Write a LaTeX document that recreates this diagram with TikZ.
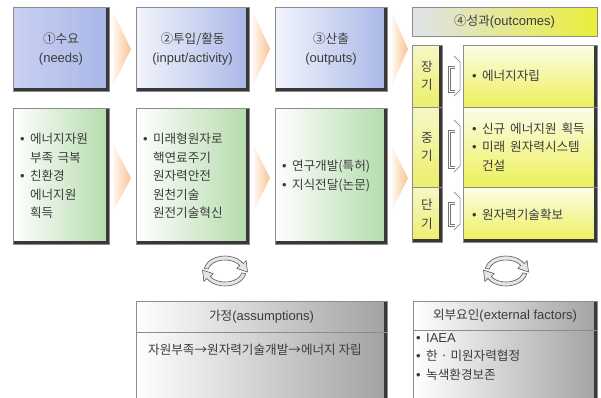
\documentclass[tikz,border=0pt]{standalone}
\usepackage{fontspec}
\setmainfont{Liberation Sans}
\newfontfamily\kr{Noto Sans CJK KR}[Scale=0.97]
\usetikzlibrary{calc}
\definecolor{txt}{HTML}{3C3C3C}
\definecolor{bluA}{HTML}{C9D0F1}
\definecolor{bluL}{HTML}{F3F5FC}
\definecolor{bluR}{HTML}{A9B7E7}
\definecolor{grnR}{HTML}{B3DBAB}
\definecolor{hdL}{HTML}{DFE2EA}
\definecolor{hdR}{HTML}{EAEE3A}
\definecolor{ylT}{HTML}{FCFCE8}
\definecolor{ylB}{HTML}{EDF05A}
\definecolor{colT}{HTML}{F7F7C8}
\definecolor{colB}{HTML}{ECEE6A}
\definecolor{grayR}{HTML}{A2A2A2}
\definecolor{orL}{HTML}{FFF7F0}
\definecolor{orR}{HTML}{F9C293}
\newcommand\bul{\makebox[10pt][l]{•}}
\newcommand\indt{\hspace*{10pt}}
\tikzset{
  box/.style={draw=black!45, line width=0.6pt, inner sep=0pt, outer sep=0pt},
  dkR/.style={path picture={\fill[black!78] ([xshift=-3pt]path picture bounding box.north east) rectangle (path picture bounding box.south east);}},
  dkRB/.style={path picture={\fill[black!78] ([xshift=-3pt]path picture bounding box.north east) rectangle (path picture bounding box.south east);
      \fill[black!78] ([yshift=3pt]path picture bounding box.south west) rectangle (path picture bounding box.south east);}},
  topbox/.style={box, dkRB, left color=bluL, right color=bluR, align=center, minimum height=84pt},
  lowbox/.style={box, dkRB, left color=white, right color=grnR, align=left, inner xsep=7pt, minimum height=136pt},
  colbox/.style={box, top color=colT, bottom color=colB, align=center, text width=24pt, inner xsep=0pt, minimum width=30pt},
  rowbox/.style={box, top color=ylT, bottom color=ylB, align=left, inner xsep=9pt, text width=116pt},
  graybox/.style={box, dkR, left color=white, right color=grayR, align=center},
  oarrow/.style={left color=orL, right color=orR, draw=none},
  cycsty/.style={fill=black!10, draw=black!65, line width=0.6pt},
  brksty/.style={draw=black!55, line width=0.5pt},
  pics/cyc/.style={code={
    \foreach \r in {0,180}{
      \filldraw[cycsty, rotate=\r] (170:21pt and 15pt)
        arc[start angle=170, end angle=30, x radius=21pt, y radius=15pt]
        -- (21.1pt,10.4pt) -- (22.5pt,-1pt) -- (11.9pt,2.6pt) -- (30:17pt and 11pt)
        arc[start angle=30, end angle=170, x radius=17pt, y radius=11pt] -- cycle;
    }
  }},
  pics/brk/.style={code={
    \draw[brksty] (-4pt,#1) -- (2pt,#1-6pt) -- (2pt,-#1+6pt) -- (-4pt,-#1);
    \draw[brksty] (-3pt,#1-10pt) -- (-10pt,#1-10pt) -- (-10pt,-#1+4pt) -- (-3pt,-#1+4pt);
    \draw[brksty] (-3pt,#1-12pt) -- (-8pt,#1-12pt) -- (-8pt,-#1+6pt) -- (-3pt,-#1+6pt);
  }}
}
\begin{document}
\begin{tikzpicture}[x=1pt,y=-1pt, every node/.style={font=\fontsize{13}{18.5}\selectfont, text=txt}]
\clip (0,0) rectangle (601,397);
\fill[white] (0,0) rectangle (601,397);

% top row
\node[topbox, left color=bluA, minimum width=96pt] (t1) at (61,49) {{\kr ①수요}\\(needs)};
\node[topbox, minimum width=113pt] (t2) at (192.5,49) {{\kr ②투입/활동}\\(input/activity)};
\node[topbox, minimum width=112pt] (t3) at (331,49) {{\kr ③산출}\\(outputs)};
\node[box, left color=hdL, right color=hdR, minimum width=185pt, minimum height=29pt] (h4) at (504.5,21.5) {{\kr ④성과}(outcomes)};

% lower row
\node[lowbox, text width=82pt] (l1) at (61,176) {\bul{\kr 에너지자원}\\\indt{\kr 부족 극복}\\\bul{\kr 친환경}\\\indt{\kr 에너지원}\\\indt{\kr 획득}};
\node[lowbox, text width=99pt] (l2) at (192.5,176) {\bul{\kr 미래형원자로}\\\indt{\kr 핵연료주기}\\\indt{\kr 원자력안전}\\\indt{\kr 원천기술}\\\indt{\kr 원전기술혁신}};
\node[lowbox, text width=98pt] (l3) at (331,176) {\bul{\kr 연구개발(특허)}\\\bul{\kr 지식전달(논문)}};

% outcome column
\node[colbox, dkR, minimum height=62pt] (c1) at (427,76) {{\kr 장}\\{\kr 기}};
\node[colbox, dkR, minimum height=80pt] (c2) at (427,147) {{\kr 중}\\{\kr 기}};
\node[colbox, dkRB, minimum height=55pt] (c3) at (427,214.5) {{\kr 단}\\{\kr 기}};
\node[rowbox, dkR, minimum height=62pt] (r1) at (530,76) {\bul{\kr 에너지자립}};
\node[rowbox, dkR, minimum height=80pt] (r2) at (530,147) {\bul{\kr 신규\hspace{5pt}에너지원\hspace{5pt}획득}\\\bul{\kr 미래\hspace{5pt}원자력시스템}\\\indt{\kr 건설}};
\node[rowbox, dkRB, minimum height=55pt] (r3) at (530,214.5) {\bul{\kr 원자력기술확보}};
\pic at (458,76) {brk=20pt};
\pic at (458,146) {brk=26pt};
\pic at (458,211) {brk=19pt};

% orange block arrows
\path[oarrow] ($(t1.east)+(4,-37)$) -- ($(t2.west)+(-5,0)$) -- ($(t1.east)+(4,37)$) -- cycle;
\path[oarrow] ($(t2.east)+(4,-37)$) -- ($(t3.west)+(-5,0)$) -- ($(t2.east)+(4,37)$) -- cycle;
\path[oarrow] ($(t3.east)+(5,-36)$) -- ($(t3.east)+(21,0)$) -- ($(t3.east)+(5,36)$) -- cycle;
\path[oarrow] ($(l1.east)+(4,-32)$) -- ($(l2.west)+(-5,2)$) -- ($(l1.east)+(4,36)$) -- cycle;
\path[oarrow] ($(l2.east)+(5,-30)$) -- ($(l3.west)+(-5,2)$) -- ($(l2.east)+(5,34)$) -- cycle;
\path[oarrow] ($(l3.east)+(5,-29)$) -- ($(l3.east)+(21,2)$) -- ($(l3.east)+(5,34)$) -- cycle;

% cycle arrows
\pic at (225,271) {cyc};
\pic at (506,271) {cyc};

% bottom boxes
\node[graybox, minimum width=251pt, minimum height=31pt] (ah) at (261.5,316.5) {{\kr 가정}(assumptions)};
\node[graybox, minimum width=251pt, minimum height=68pt] (ab) at (261.5,366) {};
\node (at) at (255,350) {\kr 자원부족→원자력기술개발→에너지 자립};
\node[graybox, minimum width=184pt, minimum height=29pt] (eh) at (505,315.5) {{\kr 외부요인}(external factors)};
\node[graybox, minimum width=184pt, minimum height=70pt] (eb) at (505,365) {};
\node[anchor=west, align=left, inner sep=0pt] (et) at (416,357) {\bul IAEA\\\bul{\kr 한 · 미원자력협정}\\\bul{\kr 녹색환경보존}};
\end{tikzpicture}
\end{document}
